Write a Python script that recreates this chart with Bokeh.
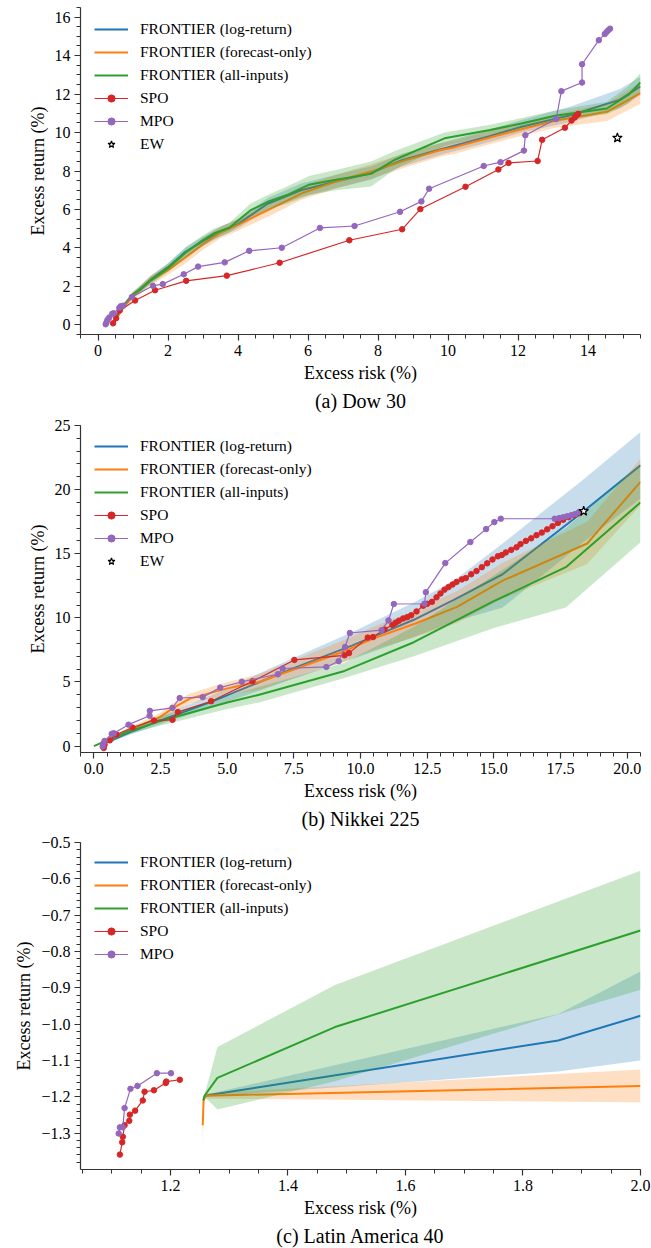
from bokeh.plotting import figure
from bokeh.layouts import column
from bokeh.models import Range1d, SingleIntervalTicker, CustomJSTickFormatter, Legend, LegendItem
from bokeh.embed import file_html
from bokeh.resources import INLINE

FONT = "Liberation Serif"
C_LOG = "#1f77b4"
C_FC = "#ff7f0e"
C_ALL = "#2ca02c"
C_SPO = "#d62728"
C_MPO = "#9467bd"

LABELS = ["FRONTIER (log-return)", "FRONTIER (forecast-only)", "FRONTIER (all-inputs)", "SPO", "MPO", "EW"]

# ---------------- (a) Dow 30 ----------------
DOW_LOG_X = [0.45, 0.7, 1.0, 1.5, 2.0, 2.5, 3.0, 3.5, 4.0, 4.85, 5.8, 6.8, 7.8, 8.7, 9.8, 11.16, 12.1, 13.5, 14.9, 15.5]
DOW_LOG_Y = [0.05, 0.9, 1.55, 2.35, 3.0, 3.8, 4.35, 4.85, 5.25, 6.3, 7.0, 7.45, 7.9, 8.57, 9.13, 9.8, 10.3, 10.9, 11.7, 12.4]
DOW_LOG_LO = [0.0, 0.8, 1.4, 2.15, 2.8, 3.55, 4.1, 4.6, 5.0, 6.0, 6.65, 7.1, 7.55, 8.25, 8.85, 9.5, 10.0, 10.55, 11.25, 11.95]
DOW_LOG_HI = [0.1, 1.0, 1.7, 2.55, 3.2, 4.05, 4.6, 5.1, 5.5, 6.6, 7.35, 7.8, 8.25, 8.9, 9.45, 10.15, 10.65, 11.35, 12.25, 12.9]

DOW_FC_X = [0.4, 0.7, 1.0, 1.5, 2.0, 2.5, 3.0, 3.5, 4.0, 5.0, 5.82, 6.8, 7.8, 8.8, 9.8, 10.2, 11.6, 13.06, 14.54, 15.5]
DOW_FC_Y = [0.0, 0.85, 1.5, 2.3, 2.85, 3.5, 4.2, 4.8, 5.2, 6.1, 6.84, 7.45, 7.97, 8.57, 9.09, 9.24, 9.94, 10.61, 11.08, 12.05]
DOW_FC_LO = [0.0, 0.7, 1.3, 2.05, 2.6, 3.2, 3.9, 4.5, 4.9, 5.75, 6.5, 7.1, 7.6, 8.2, 8.75, 8.9, 9.6, 10.25, 10.6, 11.5]
DOW_FC_HI = [0.05, 1.0, 1.7, 2.55, 3.1, 3.8, 4.5, 5.1, 5.5, 6.45, 7.2, 7.8, 8.35, 8.95, 9.45, 9.6, 10.3, 10.95, 11.5, 12.6]

DOW_ALL_X = [0.42, 0.5, 0.7, 1.0, 1.2, 1.5, 2.0, 2.5, 2.95, 3.3, 3.75, 4.35, 4.85, 5.4, 6.05, 6.8, 7.8, 8.5, 9.9, 11.2, 12.1, 13.06, 14.54, 15.15, 15.5]
DOW_ALL_Y = [0.0, 0.4, 0.95, 1.6, 1.82, 2.3, 2.95, 3.75, 4.35, 4.75, 5.05, 5.95, 6.4, 6.75, 7.3, 7.55, 7.85, 8.6, 9.7, 10.13, 10.47, 10.87, 11.25, 11.95, 12.6]
DOW_ALL_LO = [0.0, 0.3, 0.85, 1.45, 1.65, 2.1, 2.75, 3.5, 4.05, 4.45, 4.8, 5.6, 6.0, 6.3, 6.75, 7.0, 7.2, 8.1, 9.3, 9.85, 10.2, 10.6, 10.95, 11.5, 12.1]
DOW_ALL_HI = [0.0, 0.5, 1.05, 1.75, 2.0, 2.5, 3.2, 4.0, 4.6, 5.0, 5.3, 6.3, 6.75, 7.2, 7.75, 8.05, 8.5, 9.05, 10.0, 10.4, 10.75, 11.15, 11.6, 12.4, 13.1]

DOW_SPO_X = [0.43, 0.52, 0.62, 1.06, 1.63, 2.52, 3.68, 5.19, 7.18, 8.69, 9.21, 10.5, 11.44, 11.73, 12.56, 12.69, 13.34, 13.53, 13.62, 13.67, 13.72]
DOW_SPO_Y = [0.08, 0.35, 0.75, 1.27, 1.8, 2.29, 2.56, 3.23, 4.4, 4.97, 6.02, 7.18, 8.08, 8.42, 8.52, 9.62, 10.25, 10.62, 10.78, 10.88, 10.97]

DOW_MPO_X = [0.22, 0.24, 0.27, 0.32, 0.41, 0.45, 0.61, 0.65, 0.72, 0.97, 1.57, 1.85, 2.45, 2.86, 3.62, 4.32, 5.25, 6.34, 7.33, 8.63, 9.24, 9.46, 11.02, 11.5, 12.17, 12.21, 13.09, 13.24, 13.83, 13.83, 14.31, 14.48, 14.53, 14.58, 14.63]
DOW_MPO_Y = [0.03, 0.12, 0.26, 0.38, 0.58, 0.6, 0.89, 0.97, 1.0, 1.45, 2.03, 2.12, 2.63, 3.03, 3.25, 3.85, 4.01, 5.04, 5.14, 5.88, 6.42, 7.08, 8.26, 8.46, 9.06, 9.86, 10.7, 12.15, 12.6, 13.55, 14.8, 15.12, 15.22, 15.32, 15.4]

DOW_EW_X = [14.84]
DOW_EW_Y = [9.72]

# ---------------- (b) Nikkei 225 ----------------
NK_LOG_X = [0.5, 1.5, 2.5, 4.4, 7.4, 9.7, 12.0, 13.5, 15.33, 18.3, 20.5]
NK_LOG_Y = [0.3, 1.2, 2.0, 3.45, 6.0, 7.85, 9.85, 11.4, 13.4, 18.2, 21.9]
NK_LOG_LO = [0.2, 1.0, 1.7, 3.0, 5.2, 6.8, 8.5, 9.7, 10.8, 15.8, 19.3]
NK_LOG_HI = [0.45, 1.45, 2.35, 3.95, 6.8, 8.9, 11.2, 12.9, 15.8, 20.7, 24.5]

NK_FC_X = [0.4, 1.26, 2.5, 3.0, 3.6, 5.0, 6.2, 9.4, 10.5, 12.06, 13.62, 15.33, 18.5, 20.5]
NK_FC_Y = [0.3, 1.16, 2.3, 3.0, 3.7, 4.5, 5.0, 7.4, 8.4, 9.56, 10.86, 12.9, 15.8, 20.6]
NK_FC_LO = [0.2, 0.95, 2.0, 2.6, 3.3, 4.0, 4.4, 6.6, 7.5, 8.5, 9.6, 11.5, 14.2, 18.8]
NK_FC_HI = [0.4, 1.35, 2.6, 3.4, 4.1, 5.0, 5.6, 8.3, 9.3, 10.6, 12.1, 14.3, 17.5, 22.4]

NK_ALL_X = [0.0, 0.5, 1.3, 2.5, 5.0, 6.2, 9.4, 12.0, 15.0, 17.7, 20.5]
NK_ALL_Y = [0.0, 0.45, 1.15, 1.95, 3.4, 4.0, 5.86, 8.1, 11.3, 13.95, 19.0]
NK_ALL_LO = [0.0, 0.35, 0.9, 1.6, 2.9, 3.4, 5.3, 7.0, 9.2, 10.8, 15.9]
NK_ALL_HI = [0.0, 0.55, 1.4, 2.3, 3.9, 4.6, 6.5, 9.3, 13.3, 17.0, 22.0]

NK_SPO_X = [0.37, 0.4, 0.6, 0.85, 1.45, 2.25, 2.95, 3.15, 4.4, 5.95, 7.52, 9.4, 9.57, 10.27, 10.47, 10.9, 11.2, 11.32, 11.44, 11.6, 11.75, 11.9, 12.1, 12.35, 12.5, 12.68, 12.85, 13.0, 13.15, 13.3, 13.45, 13.6, 13.8, 13.95, 14.15, 14.35, 14.55, 14.75, 14.95, 15.15, 15.3, 15.45, 15.65, 15.85, 16.0, 16.2, 16.4, 16.6, 16.8, 17.0, 17.2, 17.4, 17.6, 17.8, 18.0, 18.2]
NK_SPO_Y = [-0.15, 0.1, 0.45, 0.9, 1.45, 2.0, 2.05, 2.65, 3.5, 5.05, 6.72, 7.08, 7.25, 8.46, 8.5, 9.1, 9.45, 9.62, 9.78, 9.95, 10.05, 10.2, 10.5, 10.95, 11.1, 11.25, 11.6, 11.9, 12.2, 12.4, 12.6, 12.8, 13.0, 13.1, 13.4, 13.65, 13.95, 14.25, 14.55, 14.8, 14.9, 15.1, 15.3, 15.5, 15.75, 16.0, 16.2, 16.45, 16.65, 16.9, 17.15, 17.4, 17.65, 17.85, 18.0, 18.15]

NK_MPO_X = [0.33, 0.35, 0.4, 0.67, 0.75, 1.3, 2.09, 2.1, 2.95, 3.22, 4.08, 4.74, 5.55, 6.9, 7.08, 8.72, 9.18, 9.42, 9.6, 10.79, 11.05, 11.25, 12.4, 12.45, 13.18, 14.12, 14.71, 15.02, 15.26, 17.28, 17.45, 17.6, 17.75, 17.9, 18.05, 18.2]
NK_MPO_Y = [-0.03, 0.18, 0.4, 0.95, 1.0, 1.67, 2.37, 2.75, 2.98, 3.75, 3.82, 4.56, 5.02, 5.6, 6.05, 6.17, 6.62, 7.73, 8.82, 9.04, 9.8, 11.08, 11.1, 12.0, 14.27, 15.91, 16.92, 17.47, 17.73, 17.73, 17.78, 17.85, 17.92, 18.0, 18.1, 18.25]

NK_EW_X = [18.37]
NK_EW_Y = [18.32]

# ---------------- (c) Latin America 40 ----------------
LA_LOG_X = [1.258, 1.86, 2.0]
LA_LOG_Y = [-1.197, -1.045, -0.977]
LA_LOG_LO = [-1.2, -1.13, -1.1]
LA_LOG_HI = [-1.195, -0.972, -0.855]

LA_FC_X = [1.255, 1.2565, 1.26, 2.0]
LA_FC_Y = [-1.278, -1.21, -1.197, -1.17]
LA_FC_LO = [-1.345, -1.215, -1.205, -1.215]
LA_FC_HI = [-1.21, -1.2, -1.19, -1.125]

LA_ALL_X = [1.256, 1.258, 1.28, 1.48, 2.0]
LA_ALL_Y = [-1.21, -1.197, -1.148, -1.008, -0.742]
LA_ALL_LO = [-1.21, -1.2, -1.235, -1.157, -0.905]
LA_ALL_HI = [-1.2, -1.195, -1.063, -0.892, -0.578]

LA_SPO_X = [1.114, 1.118, 1.119, 1.122, 1.13, 1.131, 1.14, 1.153, 1.156, 1.172, 1.192, 1.193, 1.216]
LA_SPO_Y = [-1.359, -1.325, -1.31, -1.278, -1.266, -1.249, -1.238, -1.21, -1.186, -1.182, -1.162, -1.158, -1.153]

LA_MPO_X = [1.112, 1.114, 1.119, 1.122, 1.132, 1.144, 1.177, 1.201]
LA_MPO_Y = [-1.301, -1.284, -1.284, -1.231, -1.178, -1.17, -1.135, -1.135]


def style_axis(ax, label):
    ax.axis_label = label
    ax.axis_label_text_font = FONT
    ax.axis_label_text_font_size = "18px"
    ax.axis_label_text_font_style = "normal"
    ax.axis_label_text_color = "black"
    ax.axis_label_standoff = 4
    ax.major_label_text_font = FONT
    ax.major_label_text_font_size = "16px"
    ax.major_label_text_color = "black"
    ax.major_label_standoff = 4
    ax.axis_line_color = "#333333"
    ax.axis_line_width = 1.2
    ax.major_tick_line_color = "#333333"
    ax.minor_tick_line_color = "#333333"
    ax.major_tick_line_width = 1.2
    ax.minor_tick_line_width = 1.0
    ax.major_tick_in = 0
    ax.major_tick_out = 6
    ax.minor_tick_in = 0
    ax.minor_tick_out = 4


GLYPH_H = 18
SPACING = 5


def make_panel(title, xr, yr, xt, ytk, xfmt, yfmt, frontiers, spo, mpo, ew, height, top, bottom, leg_top):
    p = figure(width=651, height=height, x_range=Range1d(*xr), y_range=Range1d(*yr),
               output_backend="svg", toolbar_location=None,
               title=title, title_location="below",
               min_border_left=80, min_border_right=11, min_border_top=top, min_border_bottom=bottom)
    p.grid.visible = False
    p.outline_line_color = None
    p.title.align = "center"
    p.title.text_font = FONT
    p.title.text_font_size = "20px"
    p.title.text_font_style = "normal"
    p.title.text_color = "black"
    p.title.standoff = 4

    p.xaxis.ticker = SingleIntervalTicker(interval=xt[0], num_minor_ticks=xt[1])
    p.yaxis.ticker = SingleIntervalTicker(interval=ytk[0], num_minor_ticks=ytk[1])
    if xfmt:
        p.xaxis.formatter = CustomJSTickFormatter(code=xfmt)
    if yfmt:
        p.yaxis.formatter = CustomJSTickFormatter(code=yfmt)
    style_axis(p.xaxis[0], "Excess risk (%)")
    style_axis(p.yaxis[0], "Excess return (%)")

    items = []
    line_rs = []
    for (xs, ys, lo, hi, c) in frontiers:
        p.varea(x=xs, y1=lo, y2=hi, fill_color=c, fill_alpha=0.25)
        r = p.line(xs, ys, line_color=c, line_width=2)
        line_rs.append(r)
    for lab, r in zip(LABELS[:3], line_rs):
        items.append(LegendItem(label=lab, renderers=[r]))
    for lab, (xs, ys), c in (("SPO", spo, C_SPO), ("MPO", mpo, C_MPO)):
        rl = p.line(xs, ys, line_color=c, line_width=1.2)
        rs = p.scatter(xs, ys, marker="circle", size=5.5, fill_color=c, line_color=c)
        items.append(LegendItem(label=lab, renderers=[rl, rs]))
    if ew is not None:
        re = p.scatter(ew[0], ew[1], marker="star", size=10, fill_color="white",
                       line_color="black", line_width=1.2)
        items.append(LegendItem(label="EW", renderers=[re]))

    n = len(items)
    frame_h = height - top - bottom
    leg_h = n * GLYPH_H + (n - 1) * SPACING
    legend = Legend(items=items, location=(14, frame_h - leg_top - leg_h),
                    padding=0, spacing=SPACING, margin=0,
                    glyph_width=34, glyph_height=GLYPH_H, label_height=GLYPH_H, label_standoff=12,
                    border_line_color=None, background_fill_alpha=0,
                    label_text_font=FONT, label_text_font_size="15.5px", label_text_color="black")
    p.add_layout(legend)
    return p


fmt1 = "return tick.toFixed(1)"
fmtm = "return tick.toFixed(1).replace('-', '\u2212')"

p1 = make_panel("(a) Dow 30", (-0.5, 15.5), (-0.5, 16.5), (2, 4), (2, 4), None, None,
                [(DOW_LOG_X, DOW_LOG_Y, DOW_LOG_LO, DOW_LOG_HI, C_LOG),
                 (DOW_FC_X, DOW_FC_Y, DOW_FC_LO, DOW_FC_HI, C_FC),
                 (DOW_ALL_X, DOW_ALL_Y, DOW_ALL_LO, DOW_ALL_HI, C_ALL)],
                (DOW_SPO_X, DOW_SPO_Y), (DOW_MPO_X, DOW_MPO_Y), (DOW_EW_X, DOW_EW_Y),
                417, 7, 83, 13)

p2 = make_panel("(b) Nikkei 225", (-0.5, 20.5), (-0.5, 25), (2.5, 5), (5, 5), fmt1, None,
                [(NK_LOG_X, NK_LOG_Y, NK_LOG_LO, NK_LOG_HI, C_LOG),
                 (NK_FC_X, NK_FC_Y, NK_FC_LO, NK_FC_HI, C_FC),
                 (NK_ALL_X, NK_ALL_Y, NK_ALL_LO, NK_ALL_HI, C_ALL)],
                (NK_SPO_X, NK_SPO_Y), (NK_MPO_X, NK_MPO_Y), (NK_EW_X, NK_EW_Y),
                417, 8, 82, 12)

p3 = make_panel("(c) Latin America 40", (1.047, 2.0), (-1.4, -0.5), (0.2, 4), (0.1, 5), fmt1, fmtm,
                [(LA_LOG_X, LA_LOG_Y, LA_LOG_LO, LA_LOG_HI, C_LOG),
                 (LA_FC_X, LA_FC_Y, LA_FC_LO, LA_FC_HI, C_FC),
                 (LA_ALL_X, LA_ALL_Y, LA_ALL_LO, LA_ALL_HI, C_ALL)],
                (LA_SPO_X, LA_SPO_Y), (LA_MPO_X, LA_MPO_Y), None,
                414, 8, 78, 12)

layout = column(p1, p2, p3, spacing=0)
open("out.html", "w").write(file_html(layout, INLINE))
